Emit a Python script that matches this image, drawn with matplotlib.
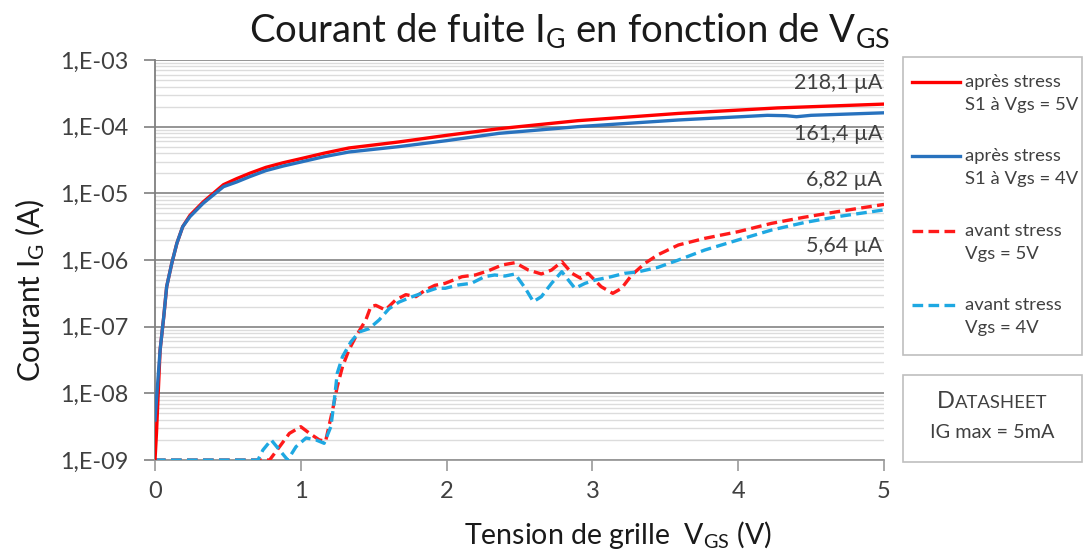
import numpy as np
import matplotlib
matplotlib.use("Agg")
import matplotlib.pyplot as plt
from matplotlib.lines import Line2D
from matplotlib.patches import Rectangle
from matplotlib.offsetbox import TextArea, HPacker, VPacker, AnnotationBbox
from matplotlib.ticker import LogLocator, FixedLocator, NullFormatter

plt.rcParams['font.family'] = ['Lato', 'DejaVu Sans']
plt.rcParams['mathtext.fontset'] = 'custom'
plt.rcParams['mathtext.rm'] = 'Lato'
plt.rcParams['mathtext.it'] = 'Lato'

# gate leakage current IG (A) vs gate voltage VGS (V)
vgs_after_5v = [0, 0.01, 0.035, 0.06, 0.08, 0.115, 0.15, 0.19, 0.24, 0.33, 0.47, 0.56,
                0.65, 0.76, 0.88, 1.0, 1.16, 1.33, 1.67, 2.0, 2.36, 2.9, 3.59, 4.27, 5.0]
ig_after_5v = [1.0e-9, 2.51e-9, 4.47e-8, 1.41e-7, 3.98e-7, 8.91e-7, 1.78e-6, 3.16e-6,
               4.68e-6, 7.41e-6, 1.35e-5, 1.66e-5, 2.0e-5, 2.45e-5, 2.88e-5, 3.31e-5,
               4.0e-5, 4.79e-5, 5.89e-5, 7.41e-5, 9.33e-5, 1.23e-4, 1.58e-4, 1.91e-4,
               218.1e-6]

vgs_after_4v = [0, 0.01, 0.035, 0.06, 0.08, 0.115, 0.15, 0.19, 0.24, 0.33, 0.47, 0.56,
                0.65, 0.76, 0.88, 1.0, 1.16, 1.33, 1.67, 2.0, 2.36, 2.9, 3.59, 4.2,
                4.33, 4.4, 4.5, 5.0]
ig_after_4v = [3.98e-9, 7.94e-9, 4.47e-8, 1.41e-7, 3.98e-7, 8.91e-7, 1.78e-6, 3.16e-6,
               4.47e-6, 7.08e-6, 1.26e-5, 1.48e-5, 1.78e-5, 2.19e-5, 2.57e-5, 2.95e-5,
               3.55e-5, 4.17e-5, 5.01e-5, 6.17e-5, 7.94e-5, 1.0e-4, 1.26e-4, 1.48e-4,
               1.46e-4, 1.41e-4, 1.48e-4, 161.4e-6]

vgs_before_5v = [0, 0.5, 0.786, 0.854, 0.922, 1.0, 1.06, 1.127, 1.17, 1.218, 1.25,
                 1.286, 1.33, 1.377, 1.446, 1.48, 1.514, 1.58, 1.65, 1.72, 1.79,
                 1.855, 1.92, 1.99, 2.106, 2.197, 2.288, 2.38, 2.47, 2.56, 2.65,
                 2.72, 2.79, 2.86, 2.92, 2.97, 3.06, 3.14, 3.2, 3.27, 3.36, 3.45,
                 3.59, 3.77, 4.0, 4.23, 4.45, 4.68, 5.0]
ig_before_5v = [1e-9, 1e-9, 1e-9, 1.58e-9, 2.51e-9, 3.16e-9, 2.51e-9, 2.0e-9, 1.91e-9,
                5.62e-9, 1.26e-8, 2.51e-8, 4.47e-8, 7.08e-8, 1.26e-7, 2.0e-7, 2.09e-7,
                1.78e-7, 2.51e-7, 3.02e-7, 2.82e-7, 3.55e-7, 4.17e-7, 4.47e-7, 5.62e-7,
                5.96e-7, 6.92e-7, 8.41e-7, 9.12e-7, 7.08e-7, 6.17e-7, 7.08e-7, 9.44e-7,
                6.31e-7, 5.31e-7, 6.31e-7, 3.98e-7, 3.16e-7, 3.76e-7, 5.96e-7, 8.91e-7,
                1.2e-6, 1.68e-6, 2.11e-6, 2.66e-6, 3.55e-6, 4.37e-6, 5.31e-6, 6.82e-6]

vgs_before_4v = [0, 0.706, 0.74, 0.797, 0.854, 0.91, 0.967, 1.036, 1.104, 1.16, 1.206,
                 1.23, 1.25, 1.286, 1.343, 1.4, 1.468, 1.537, 1.605, 1.674, 1.765,
                 1.855, 1.935, 1.99, 2.08, 2.17, 2.26, 2.33, 2.4, 2.47, 2.54, 2.595,
                 2.65, 2.72, 2.79, 2.88, 2.95, 3.02, 3.13, 3.22, 3.31, 3.45, 3.59,
                 3.77, 4.0, 4.23, 4.45, 4.68, 5.0]
ig_before_4v = [1e-9, 1e-9, 1.41e-9, 2.0e-9, 1.41e-9, 1e-9, 1.58e-9, 2.14e-9, 2.0e-9,
                1.78e-9, 3.16e-9, 7.94e-9, 2.0e-8, 3.55e-8, 5.89e-8, 8.32e-8, 9.33e-8,
                1.26e-7, 1.86e-7, 2.34e-7, 2.82e-7, 3.31e-7, 3.8e-7, 3.76e-7, 4.22e-7,
                4.47e-7, 5.62e-7, 5.96e-7, 5.75e-7, 6.17e-7, 3.76e-7, 2.37e-7, 2.82e-7,
                4.47e-7, 6.68e-7, 3.76e-7, 4.47e-7, 5.01e-7, 5.62e-7, 6.31e-7, 6.61e-7,
                7.76e-7, 1.0e-6, 1.41e-6, 2.0e-6, 2.82e-6, 3.63e-6, 4.47e-6, 5.64e-6]

series = [
    (vgs_after_5v, ig_after_5v, "après stress\nS1 à Vgs = 5V", "#FF0000", "-"),
    (vgs_after_4v, ig_after_4v, "après stress\nS1 à Vgs = 4V", "#2872BE", "-"),
    (vgs_before_5v, ig_before_5v, "avant stress\nVgs = 5V", "#FF1A1A", "--"),
    (vgs_before_4v, ig_before_4v, "avant stress\nVgs = 4V", "#1EA8E2", "--"),
]
end_labels = ["218,1 µA", "161,4 µA", "6,82 µA", "5,64 µA"]
end_offsets = [21, -21, 24, -36]   # pixels above/below the curve end

y_ticks = [1e-9, 1e-8, 1e-7, 1e-6, 1e-5, 1e-4, 1e-3]
y_ticklabels = ["1,E-09", "1,E-08", "1,E-07", "1,E-06", "1,E-05", "1,E-04", "1,E-03"]
x_ticks = [0, 1, 2, 3, 4, 5]

W, H = 1086, 556
fig = plt.figure(figsize=(W / 100, H / 100), dpi=100)
ax = fig.add_axes([155 / W, 1 - 460 / H, 729 / W, 400 / H])

ax.set_yscale("log")
ax.set_xlim(0, 5)
ax.set_ylim(1e-9, 1e-3)

for x, y, lab, col, ls in series:
    if ls == "-":
        ax.plot(x, y, color=col, lw=2.4, solid_joinstyle="round", zorder=4)
    else:
        ax.plot(x, y, color=col, lw=2.4, dashes=(3.2, 1.6), zorder=3)

# end-of-curve value labels
for (x, y, lab, col, ls), txt, off in zip(series, end_labels, end_offsets):
    ax.annotate(txt, xy=(x[-1], y[-1]), xytext=(-2, off), textcoords="offset pixels",
                ha="right", va="center", fontsize=15.5, color="#404040", zorder=5)

# grid: decades darker, minor lines pale
ax.yaxis.set_major_locator(FixedLocator(y_ticks))
ax.set_yticklabels(y_ticklabels)
ax.yaxis.set_minor_locator(LogLocator(base=10, subs=np.arange(2, 10), numticks=20))
ax.yaxis.set_minor_formatter(NullFormatter())
ax.grid(True, which="major", axis="y", color="#8C8C8C", lw=1.3, zorder=1)
ax.grid(True, which="minor", axis="y", color="#DCDCDC", lw=1.0, zorder=0)
ax.set_xticks(x_ticks)

for s in ["top", "right"]:
    ax.spines[s].set_visible(False)
ax.spines["left"].set_color("#7F7F7F")
ax.spines["bottom"].set_color("#9A9A9A")
ax.spines["left"].set_linewidth(1.3)
ax.spines["bottom"].set_linewidth(1.3)
ax.tick_params(axis="y", which="major", direction="out", length=8, width=1.2,
               color="#7F7F7F", labelsize=16.8, labelcolor="#404040", pad=11)
ax.tick_params(axis="y", which="minor", length=0)
ax.tick_params(axis="x", direction="out", length=8, width=1.2, color="#9A9A9A",
               labelsize=17, labelcolor="#404040", pad=7)

fig.text(0.524, 1 - 31 / H, r"Courant de fuite $\mathregular{I_G}$ en fonction de $\mathregular{V_{GS}}$",
         ha="center", va="center", fontsize=27.5, color="#1A1A1A")
fig.text(30 / W, 1 - 290 / H, r"Courant $\mathregular{I_G}$ (A)", rotation=90,
         ha="center", va="center", fontsize=21.5, color="#1A1A1A")
fig.text(618 / W, 1 - 535 / H, r"Tension de grille  $\mathregular{V_{GS}}$ (V)",
         ha="center", va="center", fontsize=20.5, color="#1A1A1A")

# legend panel
fig.add_artist(Rectangle((903 / W, 1 - 355 / H), 179 / W, 298 / H,
                         transform=fig.transFigure, fill=False,
                         edgecolor="#BFBFBF", lw=1.2))
for i, (x, y, lab, col, ls) in enumerate(series):
    top = 82 + i * 74.3
    kw = dict(color=col, lw=2.4, transform=fig.transFigure)
    if ls == "--":
        kw["dashes"] = (3.2, 1.6)
    fig.add_artist(Line2D([912 / W, 960 / W], [1 - top / H, 1 - top / H], **kw))
    l1, l2 = lab.split("\n")
    fig.text(965 / W, 1 - top / H, l1, ha="left", va="center", fontsize=13.3, color="#404040")
    fig.text(965 / W, 1 - (top + 23) / H, l2, ha="left", va="center", fontsize=13.3,
             color="#404040")

# datasheet panel
fig.add_artist(Rectangle((903 / W, 1 - 462 / H), 179 / W, 87 / H,
                         transform=fig.transFigure, fill=False,
                         edgecolor="#BFBFBF", lw=1.2))
title_box = HPacker(children=[
    TextArea("D", textprops=dict(fontsize=17, color="#404040")),
    TextArea("ATASHEET", textprops=dict(fontsize=13.3, color="#404040")),
], align="baseline", pad=0, sep=0)
spec_box = TextArea("IG max = 5mA", textprops=dict(fontsize=14.3, color="#404040"))
panel = VPacker(children=[title_box, spec_box], align="center", pad=0, sep=8)
fig.add_artist(AnnotationBbox(panel, (992 / W, 1 - 416 / H), xycoords="figure fraction",
                              frameon=False, box_alignment=(0.5, 0.5)))

fig.savefig("out.png", dpi=100)
